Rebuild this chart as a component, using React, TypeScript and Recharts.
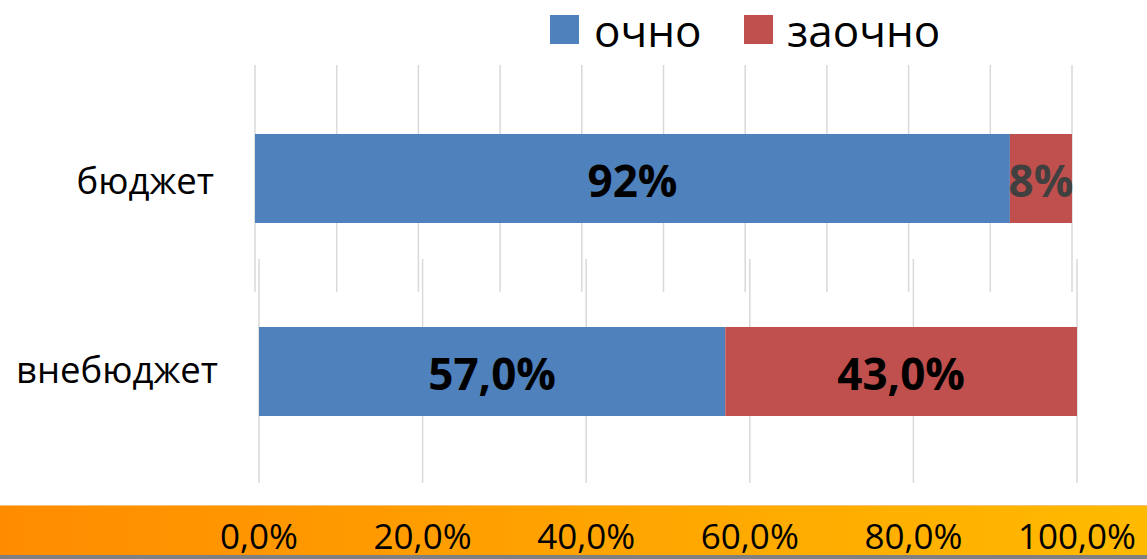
import React from 'react';
import { BarChart, Bar, XAxis, YAxis, CartesianGrid, LabelList, Legend } from 'recharts';

const categories = ['бюджет', 'внебюджет'];
const ochnoValues = [92.4, 57];
const zaochnoValues = [7.6, 43];
const ochnoLabels = ['92%', '57,0%'];
const zaochnoLabels = ['8%', '43,0%'];
const seriesNames = ['очно', 'заочно'];
const seriesKeys = ['ochno', 'zaochno'];
const seriesColors = ['#4F81BD', '#C0504D'];
const topGridTicks = [0, 10, 20, 30, 40, 50, 60, 70, 80, 90, 100];
const xTicks = [0, 20, 40, 60, 80, 100];
const xTickLabels = ['0,0%', '20,0%', '40,0%', '60,0%', '80,0%', '100,0%'];

const rows = categories.map((name, i) => ({
  name,
  ochno: ochnoValues[i],
  zaochno: zaochnoValues[i],
  ochnoLabel: ochnoLabels[i],
  zaochnoLabel: zaochnoLabels[i],
}));

const FONT = '"Open Sans", "DejaVu Sans", sans-serif';
const W = 1147;
const H = 559;

const CategoryTick = (dy: number, size: number) => (props: any) => {
  const { x, y, payload } = props;
  return (
    <text x={x} y={y} dy={dy} textAnchor="end" fontSize={size} fill="#000" fontFamily={FONT}>
      {payload.value}
    </text>
  );
};

const XTick = (props: any) => {
  const { x, payload, index } = props;
  return (
    <text x={x} y={549} textAnchor="middle" fontSize={35} fill="#000" fontFamily={FONT}>
      {xTickLabels[index] ?? payload.value}
    </text>
  );
};

const makeLabel = (color: string) => (props: any) => {
  const { x, y, width, height, value } = props;
  return (
    <text
      x={x + width / 2}
      y={y + height / 2}
      dy={18}
      textAnchor="middle"
      fontSize={44}
      fontWeight={700}
      fill={color}
      fontFamily={FONT}
    >
      {value}
    </text>
  );
};

const LegendContent = () => {
  const squareX = [550, 744];
  const textX = [594, 787];
  return (
    <svg width={W} height={65} style={{ display: 'block', overflow: 'visible' }}>
      {seriesNames.map((n, i) => (
        <g key={n}>
          <rect x={squareX[i]} y={15} width={29} height={29} fill={seriesColors[i]} />
          <text x={textX[i]} y={47} fontSize={44} fill="#000" fontFamily={FONT}>
            {n}
          </text>
        </g>
      ))}
    </svg>
  );
};

export default function App() {
  return (
    <div
      style={{
        position: 'absolute',
        left: 0,
        top: 0,
        width: W,
        height: H,
        background: '#fff',
        overflow: 'hidden',
        fontFamily: FONT,
      }}
    >
      {/* orange band */}
      <div
        style={{
          position: 'absolute',
          left: 0,
          top: 505,
          width: W,
          height: 50,
          background: 'linear-gradient(to right, #FF8C00, #FFA300 50%, #FFBA00)',
          borderTop: '1px solid #F2C27A',
        }}
      />
      <div
        style={{ position: 'absolute', left: 0, top: 555, width: W, height: 4, background: '#808080' }}
      />

      {/* top chart: бюджет */}
      <div style={{ position: 'absolute', left: 0, top: 0 }}>
        <BarChart
          width={W}
          height={292}
          layout="vertical"
          data={[rows[0]]}
          margin={{ top: 0, right: 75, bottom: 0, left: 0 }}
          barSize={89}
        >
          <CartesianGrid horizontal={false} stroke="#D9D9D9" strokeWidth={1.5} />
          <XAxis type="number" domain={[0, 100]} ticks={topGridTicks} hide />
          <YAxis
            type="category"
            dataKey="name"
            width={255}
            axisLine={false}
            tickLine={false}
            tickSize={0}
            tickMargin={41}
            tick={CategoryTick(15, 36.5)}
          />
          <Legend verticalAlign="top" align="left" height={65} content={LegendContent} />
          <Bar dataKey={seriesKeys[0]} name={seriesNames[0]} stackId="a" fill={seriesColors[0]} isAnimationActive={false}>
            <LabelList dataKey="ochnoLabel" content={makeLabel('#000000')} />
          </Bar>
          <Bar dataKey={seriesKeys[1]} name={seriesNames[1]} stackId="a" fill={seriesColors[1]} isAnimationActive={false}>
            <LabelList dataKey="zaochnoLabel" content={makeLabel('#404040')} />
          </Bar>
        </BarChart>
      </div>

      {/* bottom chart: внебюджет */}
      <div style={{ position: 'absolute', left: 0, top: 0 }}>
        <BarChart
          width={W}
          height={H}
          layout="vertical"
          data={[rows[1]]}
          margin={{ top: 259, right: 70, bottom: 0, left: 0 }}
          barSize={89}
        >
          <CartesianGrid horizontal={false} stroke="#D9D9D9" strokeWidth={1.5} />
          <XAxis
            type="number"
            domain={[0, 100]}
            ticks={xTicks}
            height={76}
            axisLine={false}
            tickLine={false}
            tick={XTick}
            interval={0}
          />
          <YAxis
            type="category"
            dataKey="name"
            width={259}
            axisLine={false}
            tickLine={false}
            tickSize={0}
            tickMargin={41}
            tick={CategoryTick(12, 36.5)}
          />
          <Bar dataKey={seriesKeys[0]} name={seriesNames[0]} stackId="a" fill={seriesColors[0]} isAnimationActive={false}>
            <LabelList dataKey="ochnoLabel" content={makeLabel('#000000')} />
          </Bar>
          <Bar dataKey={seriesKeys[1]} name={seriesNames[1]} stackId="a" fill={seriesColors[1]} isAnimationActive={false}>
            <LabelList dataKey="zaochnoLabel" content={makeLabel('#000000')} />
          </Bar>
        </BarChart>
      </div>
    </div>
  );
}
